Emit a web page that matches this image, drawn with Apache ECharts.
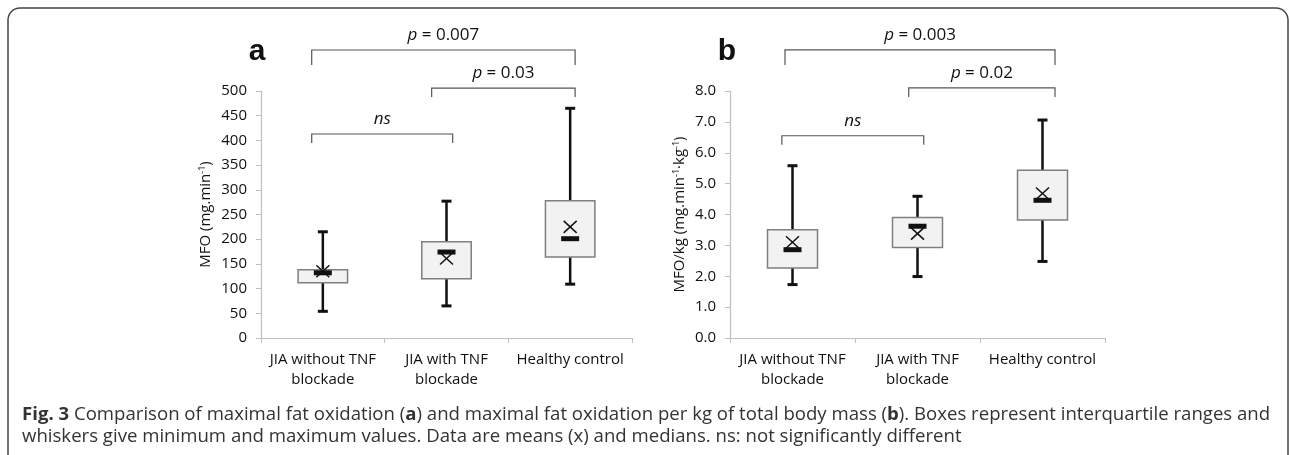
<!DOCTYPE html>
<html>
<head>
<meta charset="utf-8">
<script src="https://cdn.jsdelivr.net/npm/echarts@6/dist/echarts.min.js"></script>
<style>
  html, body { margin: 0; padding: 0; background: #fff; }
  #main { width: 1290px; height: 455px; }
</style>
</head>
<body>
<div id="main"></div>
<script>
// 分类
var categories = ['JIA without TNF\nblockade', 'JIA with TNF\nblockade', 'Healthy control'];

// 图 a: MFO (mg/min)
var minA = [54, 65, 109];
var q1A = [112, 120, 164];
var medA = [132, 174, 201];
var q3A = [138, 195, 278];
var maxA = [215, 277, 465];
var meanA = [135, 161, 225];

// 图 b: MFO/kg
var minB = [1.73, 1.99, 2.48];
var q1B = [2.27, 2.93, 3.82];
var medB = [2.86, 3.62, 4.46];
var q3B = [3.51, 3.90, 5.43];
var maxB = [5.58, 4.59, 7.06];
var meanB = [3.10, 3.38, 4.68];

// 显著性括号 (起止位置按分类单位, 高度按数值)
var bracketTextA = ['{i|ns}', '{i|p} = 0.03', '{i|p} = 0.007'];
var bracketFromA = [-0.09, 0.88, -0.09];
var bracketToA = [1.05, 2.04, 2.04];
var bracketLevelA = [413, 506, 583];

var bracketTextB = ['{i|ns}', '{i|p} = 0.02', '{i|p} = 0.003'];
var bracketFromB = [-0.085, 0.93, -0.06];
var bracketToB = [1.05, 2.1, 2.1];
var bracketLevelB = [6.55, 8.1, 9.33];

var chart = echarts.init(document.getElementById('main'));
var FONT = '"Open Sans", sans-serif';

function boxRenderer(mins, q1s, meds, q3s, maxs, means) {
  return function (params, api) {
    var i = params.dataIndex;
    var band = api.size([1, 0])[0];
    var w = band * 0.4;
    var x = api.coord([i, 0])[0];
    var yMin = api.coord([i, mins[i]])[1];
    var yQ1 = api.coord([i, q1s[i]])[1];
    var yMed = api.coord([i, meds[i]])[1];
    var yQ3 = api.coord([i, q3s[i]])[1];
    var yMax = api.coord([i, maxs[i]])[1];
    var yMean = api.coord([i, means[i]])[1];
    var wk = { stroke: '#111', lineWidth: 2.5 };
    var thin = { stroke: '#111', lineWidth: 1.5 };
    return {
      type: 'group',
      children: [
        { type: 'line', shape: { x1: x, y1: yQ1, x2: x, y2: yMin }, style: wk },
        { type: 'line', shape: { x1: x - 5, y1: yMin, x2: x + 5, y2: yMin }, style: { stroke: '#111', lineWidth: 3 } },
        { type: 'line', shape: { x1: x, y1: yQ3, x2: x, y2: yMax }, style: wk },
        { type: 'line', shape: { x1: x - 5, y1: yMax, x2: x + 5, y2: yMax }, style: { stroke: '#111', lineWidth: 3 } },
        { type: 'rect', shape: { x: x - w / 2, y: yQ3, width: w, height: yQ1 - yQ3 },
          style: { fill: '#f2f2f2', stroke: '#7f7f7f', lineWidth: 1.5 } },
        { type: 'rect', shape: { x: x - 9, y: yMed - 2.5, width: 18, height: 5 }, style: { fill: '#111' } },
        { type: 'line', shape: { x1: x - 6.5, y1: yMean - 6, x2: x + 6.5, y2: yMean + 6 }, style: thin },
        { type: 'line', shape: { x1: x - 6.5, y1: yMean + 6, x2: x + 6.5, y2: yMean - 6 }, style: thin }
      ]
    };
  };
}

function bracketRenderer(froms, tos, levels, texts) {
  return function (params, api) {
    var i = params.dataIndex;
    var band = api.size([1, 0])[0];
    var x0 = api.coord([0, 0])[0];
    var xa = x0 + froms[i] * band;
    var xb = x0 + tos[i] * band;
    var y = api.coord([0, levels[i]])[1];
    var drop = i === levels.length - 1 ? 15 : 9;
    return {
      type: 'group',
      children: [
        { type: 'polyline', shape: { points: [[xa, y + drop], [xa, y], [xb, y], [xb, y + drop]] },
          style: { stroke: '#555', lineWidth: 1.2, fill: null } },
        { type: 'text', style: {
            x: (xa + xb) / 2, y: y - 15, text: texts[i], align: 'center', verticalAlign: 'middle',
            fontFamily: FONT, fontSize: 17, fill: '#111',
            rich: { i: { fontStyle: 'italic', fontFamily: FONT, fontSize: 17, fill: '#111' } }
          } }
      ]
    };
  };
}

function idxData(arr) {
  return arr.map(function (v, i) { return [i, v]; });
}

var axisColor = '#bfbfbf';
var xAxisBase = {
  type: 'category',
  data: categories,
  axisLine: { lineStyle: { color: axisColor, width: 1.2 } },
  axisTick: { show: true, length: 5, lineStyle: { color: axisColor } },
  axisLabel: { interval: 0, color: '#111', fontFamily: FONT, fontSize: 15, lineHeight: 20, margin: 12 }
};

var option = {
  animation: false,
  textStyle: { fontFamily: FONT },
  grid: [
    { left: 261, top: 91, width: 371, height: 247 },
    { left: 730, top: 91, width: 375, height: 247 }
  ],
  xAxis: [
    Object.assign({ gridIndex: 0 }, xAxisBase),
    Object.assign({ gridIndex: 1 }, xAxisBase)
  ],
  yAxis: [
    {
      gridIndex: 0, type: 'value', min: 0, max: 500, interval: 50,
      name: 'MFO (mg.min{s|-1})', nameLocation: 'middle', nameRotate: 90, nameGap: 48,
      nameTextStyle: { color: '#111', fontFamily: FONT, fontSize: 15,
        rich: { s: { fontSize: 9, verticalAlign: 'top', fontFamily: FONT, color: '#111' } } },
      axisLine: { show: true, lineStyle: { color: axisColor, width: 1.2 } },
      axisTick: { show: true, length: 5, lineStyle: { color: axisColor } },
      axisLabel: { color: '#111', fontFamily: FONT, fontSize: 15, margin: 14 },
      splitLine: { show: false }
    },
    {
      gridIndex: 1, type: 'value', min: 0, max: 8, interval: 1,
      name: 'MFO/kg (mg.min{s|-1}·kg{s|-1})', nameLocation: 'middle', nameRotate: 90, nameGap: 43,
      nameTextStyle: { color: '#111', fontFamily: FONT, fontSize: 15,
        rich: { s: { fontSize: 9, verticalAlign: 'top', fontFamily: FONT, color: '#111' } } },
      axisLine: { show: true, lineStyle: { color: axisColor, width: 1.2 } },
      axisTick: { show: true, length: 5, lineStyle: { color: axisColor } },
      axisLabel: { color: '#111', fontFamily: FONT, fontSize: 15, margin: 14,
        formatter: function (v) { return v.toFixed(1); } },
      splitLine: { show: false }
    }
  ],
  series: [
    { type: 'custom', xAxisIndex: 0, yAxisIndex: 0, data: idxData(maxA),
      renderItem: boxRenderer(minA, q1A, medA, q3A, maxA, meanA) },
    { type: 'custom', xAxisIndex: 0, yAxisIndex: 0, data: idxData(bracketLevelA), clip: false,
      renderItem: bracketRenderer(bracketFromA, bracketToA, bracketLevelA, bracketTextA) },
    { type: 'custom', xAxisIndex: 1, yAxisIndex: 1, data: idxData(maxB),
      renderItem: boxRenderer(minB, q1B, medB, q3B, maxB, meanB) },
    { type: 'custom', xAxisIndex: 1, yAxisIndex: 1, data: idxData(bracketLevelB), clip: false,
      renderItem: bracketRenderer(bracketFromB, bracketToB, bracketLevelB, bracketTextB) }
  ],
  graphic: [
    // 外框
    { type: 'rect', shape: { x: 8, y: 8, width: 1280, height: 480, r: 12 },
      style: { fill: null, stroke: '#444', lineWidth: 1.5 }, silent: true },
    // 面板字母
    { type: 'text', style: { x: 257, y: 52, text: 'a', align: 'center', verticalAlign: 'middle',
        fontFamily: '"Liberation Sans", Arial, sans-serif', fontWeight: 'bold', fontSize: 30, fill: '#111' } },
    { type: 'text', style: { x: 727, y: 52, text: 'b', align: 'center', verticalAlign: 'middle',
        fontFamily: '"Liberation Sans", Arial, sans-serif', fontWeight: 'bold', fontSize: 30, fill: '#111' } },
    // 图注
    { type: 'text', style: { x: 22, y: 415, verticalAlign: 'middle',
        text: '{b|Fig. 3} Comparison of maximal fat oxidation ({b|a}) and maximal fat oxidation per kg of total body mass ({b|b}). Boxes represent interquartile ranges and',
        fontFamily: FONT, fontSize: 18.6, fill: '#333',
        rich: { b: { fontWeight: 'bold', fontFamily: FONT, fontSize: 18.6, fill: '#333' } } } },
    { type: 'text', style: { x: 22, y: 437, verticalAlign: 'middle',
        text: 'whiskers give minimum and maximum values. Data are means (x) and medians. ns: not significantly different',
        fontFamily: FONT, fontSize: 18.6, fill: '#333' } }
  ]
};

chart.setOption(option);
</script>
</body>
</html>
